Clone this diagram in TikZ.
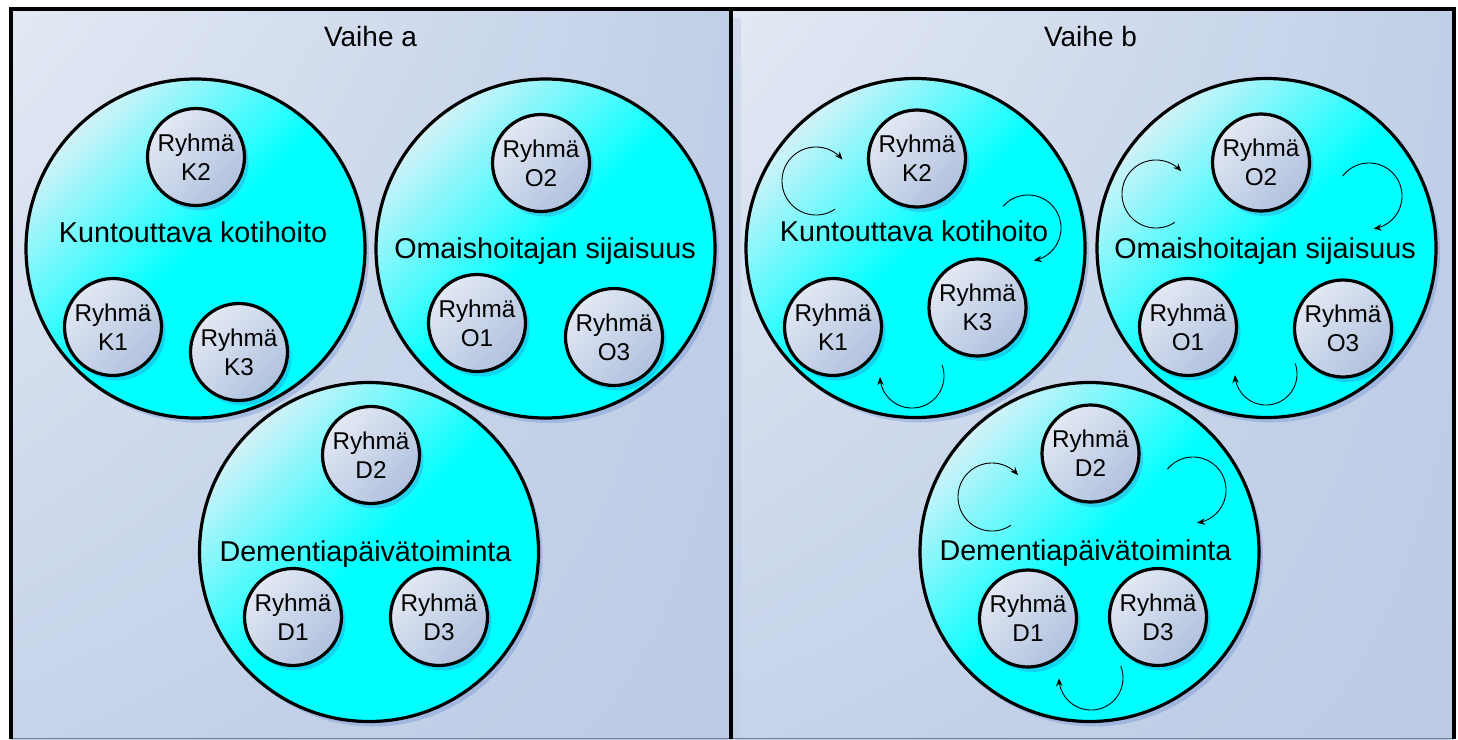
\documentclass[tikz,border=0pt]{standalone}
\usepackage{fontspec}
\setmainfont{Liberation Sans}
\usetikzlibrary{shadows,shadings,arrows.meta}
\definecolor{pTL}{HTML}{E3E9F4}
\definecolor{pTR}{HTML}{C0CFE7}
\definecolor{pBL}{HTML}{C6D3E9}
\definecolor{pBR}{HTML}{BCCCE5}
\definecolor{cyLight}{HTML}{D2F2F8}
\definecolor{cyMain}{HTML}{00FFFF}
\definecolor{smLight}{HTML}{E3E9F4}
\definecolor{smDark}{HTML}{B0C1DE}
\definecolor{shBlue}{HTML}{3F6FC8}
\definecolor{bottomLine}{HTML}{707F99}
\definecolor{stripBlue}{HTML}{C2D0E8}
\newcommand\cycarc[5]{\draw[cyc] plot[domain=#4:#5, samples=70] ({#1+#3*cos(\x)},{#2+#3*sin(\x)});}
\begin{document}
\begin{tikzpicture}[x=1pt,y=-1pt,
  panel/.style={upper left=pTL, upper right=pTR, lower left=pBL, lower right=pBR},
  frame/.style={line width=4pt, line join=miter},
  bigc/.style={circle, draw=black, line width=3.2pt, inner sep=0pt, minimum size=339pt,
    top color=cyLight, bottom color=cyMain, middle color=cyMain, shading angle=45,
    drop shadow={shadow xshift=4pt, shadow yshift=-5pt, fill=shBlue, opacity=0.25}},
  smallc/.style={circle, draw=black, line width=3.2pt, inner sep=0pt, minimum size=97pt,
    top color=smLight, bottom color=smDark, shading angle=45, align=center,
    font=\fontsize{24.3}{29}\selectfont,
    drop shadow={shadow xshift=4pt, shadow yshift=-5pt, fill=shBlue, opacity=0.3}},
  bigtxt/.style={anchor=base, inner sep=0pt, font=\fontsize{28.7}{34}\selectfont},
  title/.style={anchor=base, inner sep=0pt, font=\fontsize{28}{33}\selectfont},
  cyc/.style={line width=0.9pt, -{Stealth[length=8pt,width=6.5pt]}}
]
\useasboundingbox (0,0) rectangle (1458,739);
% panels
\shade[panel] (11,9) rectangle (731,739);
\shade[panel] (731,9) rectangle (1453.5,739);
\fill[stripBlue, opacity=0.5] (733,18) rectangle (741,739);
\draw[bottomLine, line width=1pt] (11,738.5) -- (1453.5,738.5);
\draw[frame] (11,739) -- (11,9) -- (731,9) -- (731,739);
\draw[frame] (731,9) -- (1453.5,9) -- (1453.5,739);
% titles
\node[title] (ta) at (370.5,46) {Vaihe a};
\node[title] (tb) at (1090.5,46) {Vaihe b};

% ---------- Vaihe a ----------
\node[bigc] (aD) at (369,552) {};
\node[bigc] (aK) at (195.5,248.5) {};
\node[bigc] (aO) at (545.5,248.5) {};
\node[bigtxt] (aKt) at (193,242) {Kuntouttava kotihoito};
\node[bigtxt] (aOt) at (545,258) {Omaishoitajan sijaisuus};
\node[bigtxt] (aDt) at (365.5,561) {Dementiapäivätoiminta};
\node[smallc] (aK2) at (196,157) {Ryhmä\\K2};
\node[smallc] (aK1) at (113,327) {Ryhmä\\K1};
\node[smallc] (aK3) at (239,352) {Ryhmä\\K3};
\node[smallc] (aO2) at (541,163) {Ryhmä\\O2};
\node[smallc] (aO1) at (477,323) {Ryhmä\\O1};
\node[smallc] (aO3) at (614,337) {Ryhmä\\O3};
\node[smallc] (aD2) at (371,455) {Ryhmä\\D2};
\node[smallc] (aD1) at (293,617) {Ryhmä\\D1};
\node[smallc] (aD3) at (439,617) {Ryhmä\\D3};

% ---------- Vaihe b ----------
\node[bigc] (bD) at (1089.5,552) {};
\node[bigc] (bK) at (915.5,248) {};
\node[bigc] (bO) at (1266.5,248) {};
\node[bigtxt] (bKt) at (914,241) {Kuntouttava kotihoito};
\node[bigtxt] (bOt) at (1265,258) {Omaishoitajan sijaisuus};
\node[bigtxt] (bDt) at (1085.5,560) {Dementiapäivätoiminta};
\node[smallc] (bK2) at (917,158.5) {Ryhmä\\K2};
\node[smallc] (bK1) at (833,327) {Ryhmä\\K1};
\node[smallc] (bK3) at (977.5,307.5) {Ryhmä\\K3};
\node[smallc] (bO2) at (1261,162.5) {Ryhmä\\O2};
\node[smallc] (bO1) at (1188,327) {Ryhmä\\O1};
\node[smallc] (bO3) at (1343,328.5) {Ryhmä\\O3};
\node[smallc] (bD2) at (1090.5,453.5) {Ryhmä\\D2};
\node[smallc] (bD1) at (1028,618.5) {Ryhmä\\D1};
\node[smallc] (bD3) at (1158,617) {Ryhmä\\D3};
% rotation arrows
\cycarc{816}{181}{34}{56}{321}
\cycarc{1028}{228}{33}{221}{440}
\cycarc{912}{376}{32}{-20}{178}
\cycarc{1156}{194}{34}{56.5}{318}
\cycarc{1369}{196}{33}{217}{442}
\cycarc{1266}{374}{31}{-20}{178}
\cycarc{992}{497}{34}{56.5}{320}
\cycarc{1193}{490}{33}{219}{443}
\cycarc{1091}{678}{32}{-22}{179.5}
\end{tikzpicture}
\end{document}
